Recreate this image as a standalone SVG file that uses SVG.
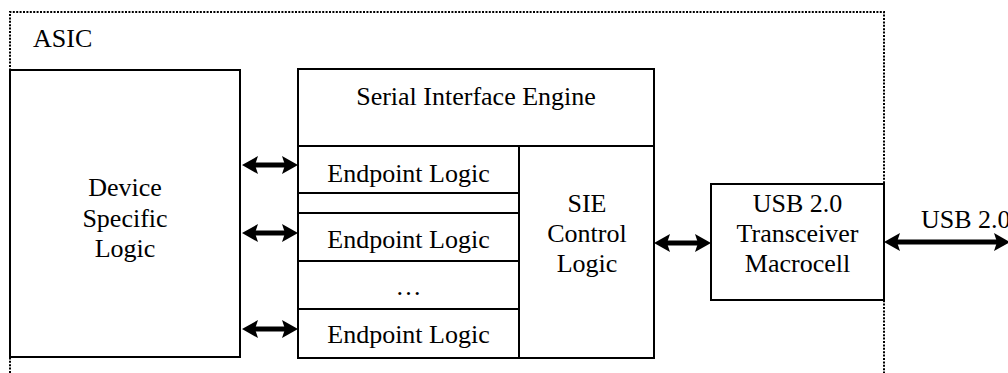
<svg xmlns="http://www.w3.org/2000/svg" width="1008" height="373" viewBox="0 0 1008 373">
<style>
.box{fill:#fff;stroke:#000;stroke-width:2}
.ln{stroke:#000;stroke-width:2;fill:none}
.dot{stroke:#000;stroke-width:2;fill:none;stroke-dasharray:2 1.4}
.t{font-family:"Liberation Serif","Times New Roman",serif;font-size:26px;fill:#000;text-anchor:middle}
.arr{stroke:#000;stroke-width:5;fill:none;marker-start:url(#ah);marker-end:url(#ah)}
</style>
<defs>
<marker id="ah" markerUnits="userSpaceOnUse" markerWidth="16" markerHeight="18" viewBox="0 0 16 18" refX="4" refY="9" orient="auto-start-reverse">
<path d="M0,0 L16,9 L0,18 L3,9 Z" fill="#000"/>
</marker>
</defs>
<rect width="1008" height="373" fill="#fff"/>
<g id="asic">
<path class="dot" d="M10,373 V12 H884 V373"/>
<text class="t" x="33" y="47" style="text-anchor:start">ASIC</text>
</g>
<g id="device">
<rect class="box" x="10" y="70" width="230" height="287"/>
<text class="t" x="125" y="196">Device</text>
<text class="t" x="125" y="227">Specific</text>
<text class="t" x="125" y="257">Logic</text>
</g>
<g id="sie">
<rect class="box" x="298" y="69" width="356" height="289"/>
<line class="ln" x1="298" y1="146" x2="654" y2="146"/>
<text class="t" x="476" y="105">Serial Interface Engine</text>
</g>
<g id="sie-control">
<line class="ln" x1="519" y1="146" x2="519" y2="358"/>
<text class="t" x="587" y="212">SIE</text>
<text class="t" x="587" y="242">Control</text>
<text class="t" x="587" y="272">Logic</text>
</g>
<g id="ep1">
<line class="ln" x1="298" y1="193" x2="519" y2="193"/>
<text class="t" x="408.5" y="182">Endpoint Logic</text>
</g>
<g id="ep2">
<line class="ln" x1="298" y1="213" x2="519" y2="213"/>
<line class="ln" x1="298" y1="261" x2="519" y2="261"/>
<text class="t" x="408.5" y="248">Endpoint Logic</text>
</g>
<g id="ep-dots">
<text class="t" x="408.5" y="295">…</text>
</g>
<g id="ep3">
<line class="ln" x1="298" y1="309" x2="519" y2="309"/>
<text class="t" x="408.5" y="343">Endpoint Logic</text>
</g>
<g id="utm">
<rect class="box" x="711" y="184" width="173" height="116"/>
<text class="t" x="797.5" y="212">USB 2.0</text>
<text class="t" x="797.5" y="242">Transceiver</text>
<text class="t" x="797.5" y="272">Macrocell</text>
</g>
<g id="connectors">
<line class="arr" x1="254" y1="165" x2="286" y2="165"/>
<line class="arr" x1="254" y1="233" x2="286" y2="233"/>
<line class="arr" x1="254" y1="329" x2="286" y2="329"/>
<line class="arr" x1="666" y1="243" x2="699" y2="243"/>
<line class="arr" x1="896" y1="242" x2="998" y2="242"/>
<text class="t" x="921" y="228" style="text-anchor:start">USB 2.0</text>
</g>
</svg>
